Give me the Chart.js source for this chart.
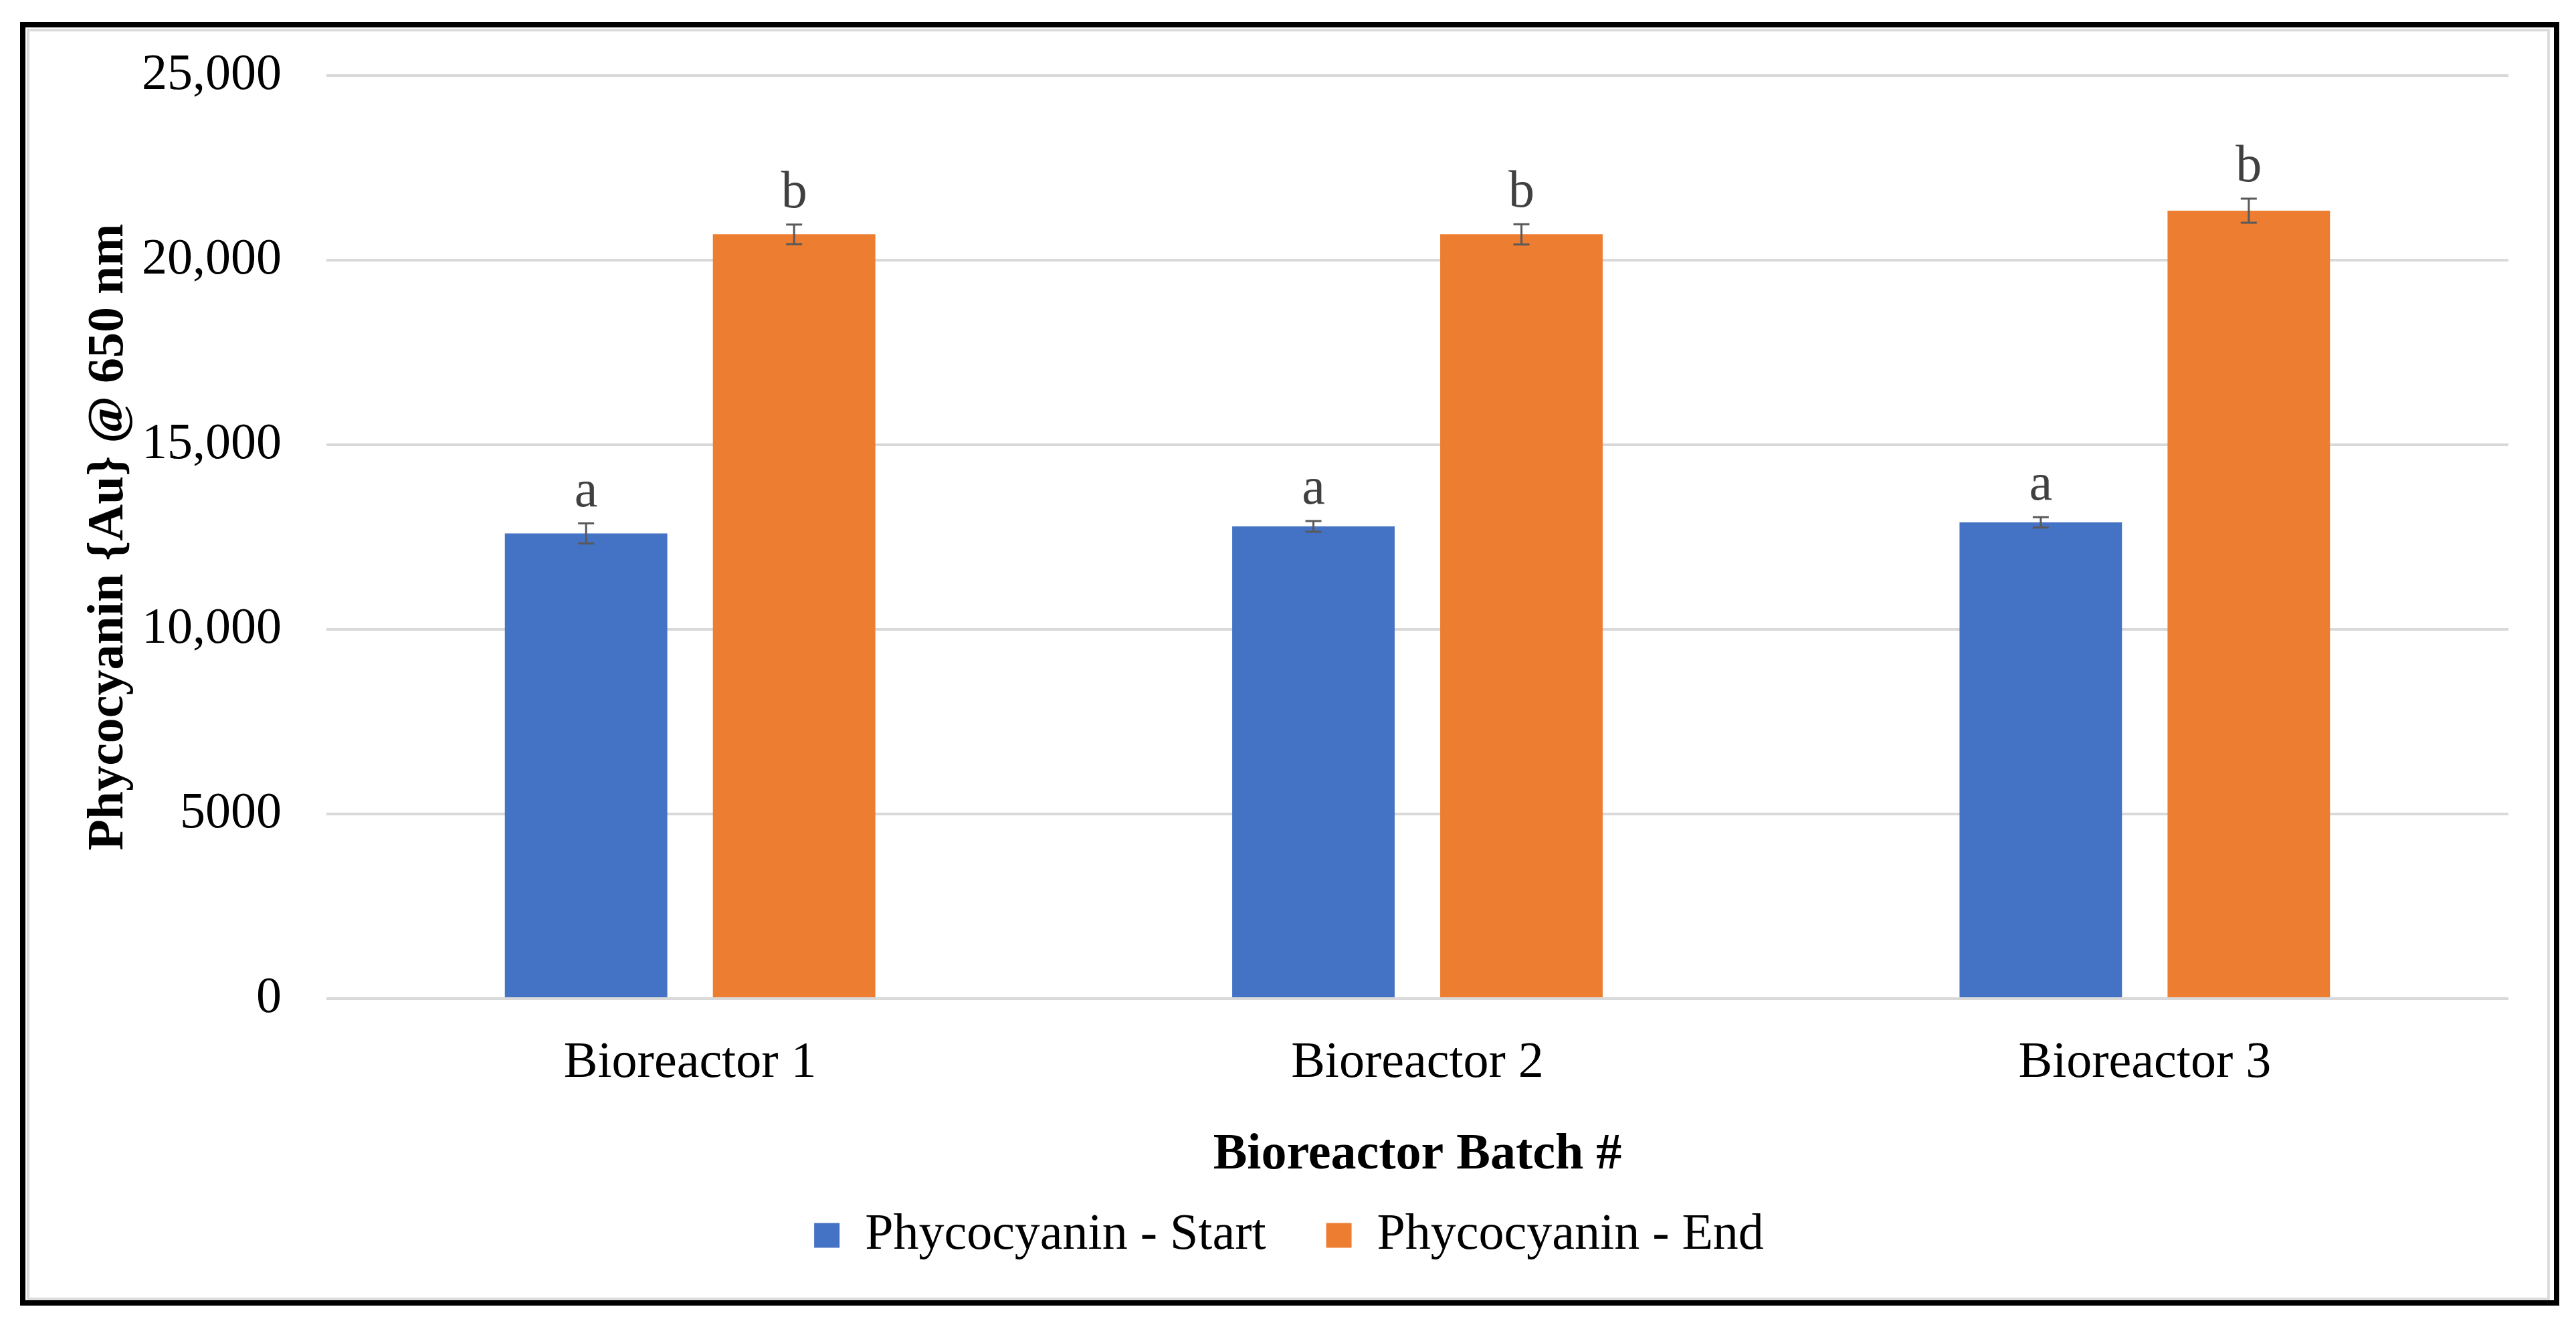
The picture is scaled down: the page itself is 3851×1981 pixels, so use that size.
<!DOCTYPE html>
<html>
<head>
<meta charset="utf-8">
<script src="https://cdn.jsdelivr.net/npm/chart.js@4.4.0/dist/chart.umd.min.js"></script>
<style>
  html, body { margin: 0; padding: 0; background: #fff; }
  #frame {
    position: absolute; left: 30px; top: 33px; width: 3796px; height: 1919px;
    border: 8px solid #000; box-sizing: border-box;
  }
  #inner {
    position: absolute; left: 40px; top: 43px; width: 3772px; height: 1901px;
    border: 4px solid #dcdcdc; box-sizing: border-box;
  }
  #chart { position: absolute; left: 0; top: 0; width: 3851px; height: 1981px; }
</style>
</head>
<body>
<div id="frame"></div>
<div id="inner"></div>
<canvas id="chart" width="3851" height="1981"></canvas>
<script>
  const categories = ['Bioreactor 1', 'Bioreactor 2', 'Bioreactor 3'];
  const startValues = [12600, 12790, 12900];
  const endValues = [20700, 20700, 21340];
  const startErrors = [270, 145, 140];
  const endErrors = [265, 275, 325];
  const startLetters = ['a', 'a', 'a'];
  const endLetters = ['b', 'b', 'b'];
  const yTickLabels = ['0', '5000', '10,000', '15,000', '20,000', '25,000'];

  const serif = '"Liberation Serif", "Times New Roman", Times, serif';

  // error bars + significance letters drawn on top of the bars
  const errorBars = {
    id: 'errorBars',
    afterDatasetsDraw(chart) {
      const ctx = chart.ctx;
      const y = chart.scales.y;
      ctx.save();
      chart.data.datasets.forEach((ds, i) => {
        const meta = chart.getDatasetMeta(i);
        meta.data.forEach((bar, j) => {
          const v = ds.data[j];
          const e = ds.errors[j];
          const top = y.getPixelForValue(v + e);
          const bot = y.getPixelForValue(v - e);
          ctx.strokeStyle = '#595959';
          ctx.lineWidth = 3;
          ctx.beginPath();
          ctx.moveTo(bar.x, top); ctx.lineTo(bar.x, bot);
          ctx.moveTo(bar.x - 12, top); ctx.lineTo(bar.x + 12, top);
          ctx.moveTo(bar.x - 12, bot); ctx.lineTo(bar.x + 12, bot);
          ctx.stroke();
          ctx.fillStyle = '#404040';
          ctx.font = '78px ' + serif;
          ctx.textAlign = 'center';
          ctx.textBaseline = 'alphabetic';
          ctx.fillText(ds.letters[j], bar.x, top - 26);
        });
      });
      ctx.restore();
    }
  };

  new Chart(document.getElementById('chart'), {
    type: 'bar',
    data: {
      labels: categories,
      datasets: [
        {
          label: 'Phycocyanin - Start',
          data: startValues,
          errors: startErrors,
          letters: startLetters,
          backgroundColor: '#4472C4'
        },
        {
          label: 'Phycocyanin - End',
          data: endValues,
          errors: endErrors,
          letters: endLetters,
          backgroundColor: '#ED7D31'
        }
      ]
    },
    options: {
      responsive: false,
      animation: false,
      categoryPercentage: 0.572,
      barPercentage: 0.781,
      layout: { padding: { left: 104, right: 101, top: 113, bottom: 86 } },
      plugins: {
        tooltip: { enabled: false },
        legend: {
          position: 'bottom',
          labels: {
            font: { family: serif, size: 76 },
            color: '#000',
            boxWidth: 38,
            boxHeight: 37,
            padding: 90
          }
        }
      },
      scales: {
        x: {
          grid: { display: false },
          border: { display: false },
          ticks: {
            font: { family: serif, size: 76, lineHeight: 1 },
            color: '#000',
            padding: 51
          },
          title: {
            display: true,
            text: 'Bioreactor Batch #',
            font: { family: serif, size: 76, weight: 'bold', lineHeight: 1 },
            color: '#000',
            padding: { top: 0, bottom: -46 }
          },
          afterFit(scale) { scale.height = 226; }
        },
        y: {
          min: 0,
          max: 25000,
          grid: { color: '#d9d9d9', lineWidth: 4, drawTicks: false },
          border: { display: false },
          ticks: {
            stepSize: 5000,
            font: { family: serif, size: 76 },
            color: '#000',
            padding: 67,
            callback: (value, index) => yTickLabels[index]
          },
          title: {
            display: true,
            text: 'Phycocyanin {Au} @ 650 nm',
            font: { family: serif, size: 76, weight: 'bold', lineHeight: 1 },
            color: '#000',
            padding: { top: 21, bottom: 0 }
          },
          afterFit(scale) { scale.width = 384; }
        }
      }
    },
    plugins: [errorBars]
  });
</script>
</body>
</html>
